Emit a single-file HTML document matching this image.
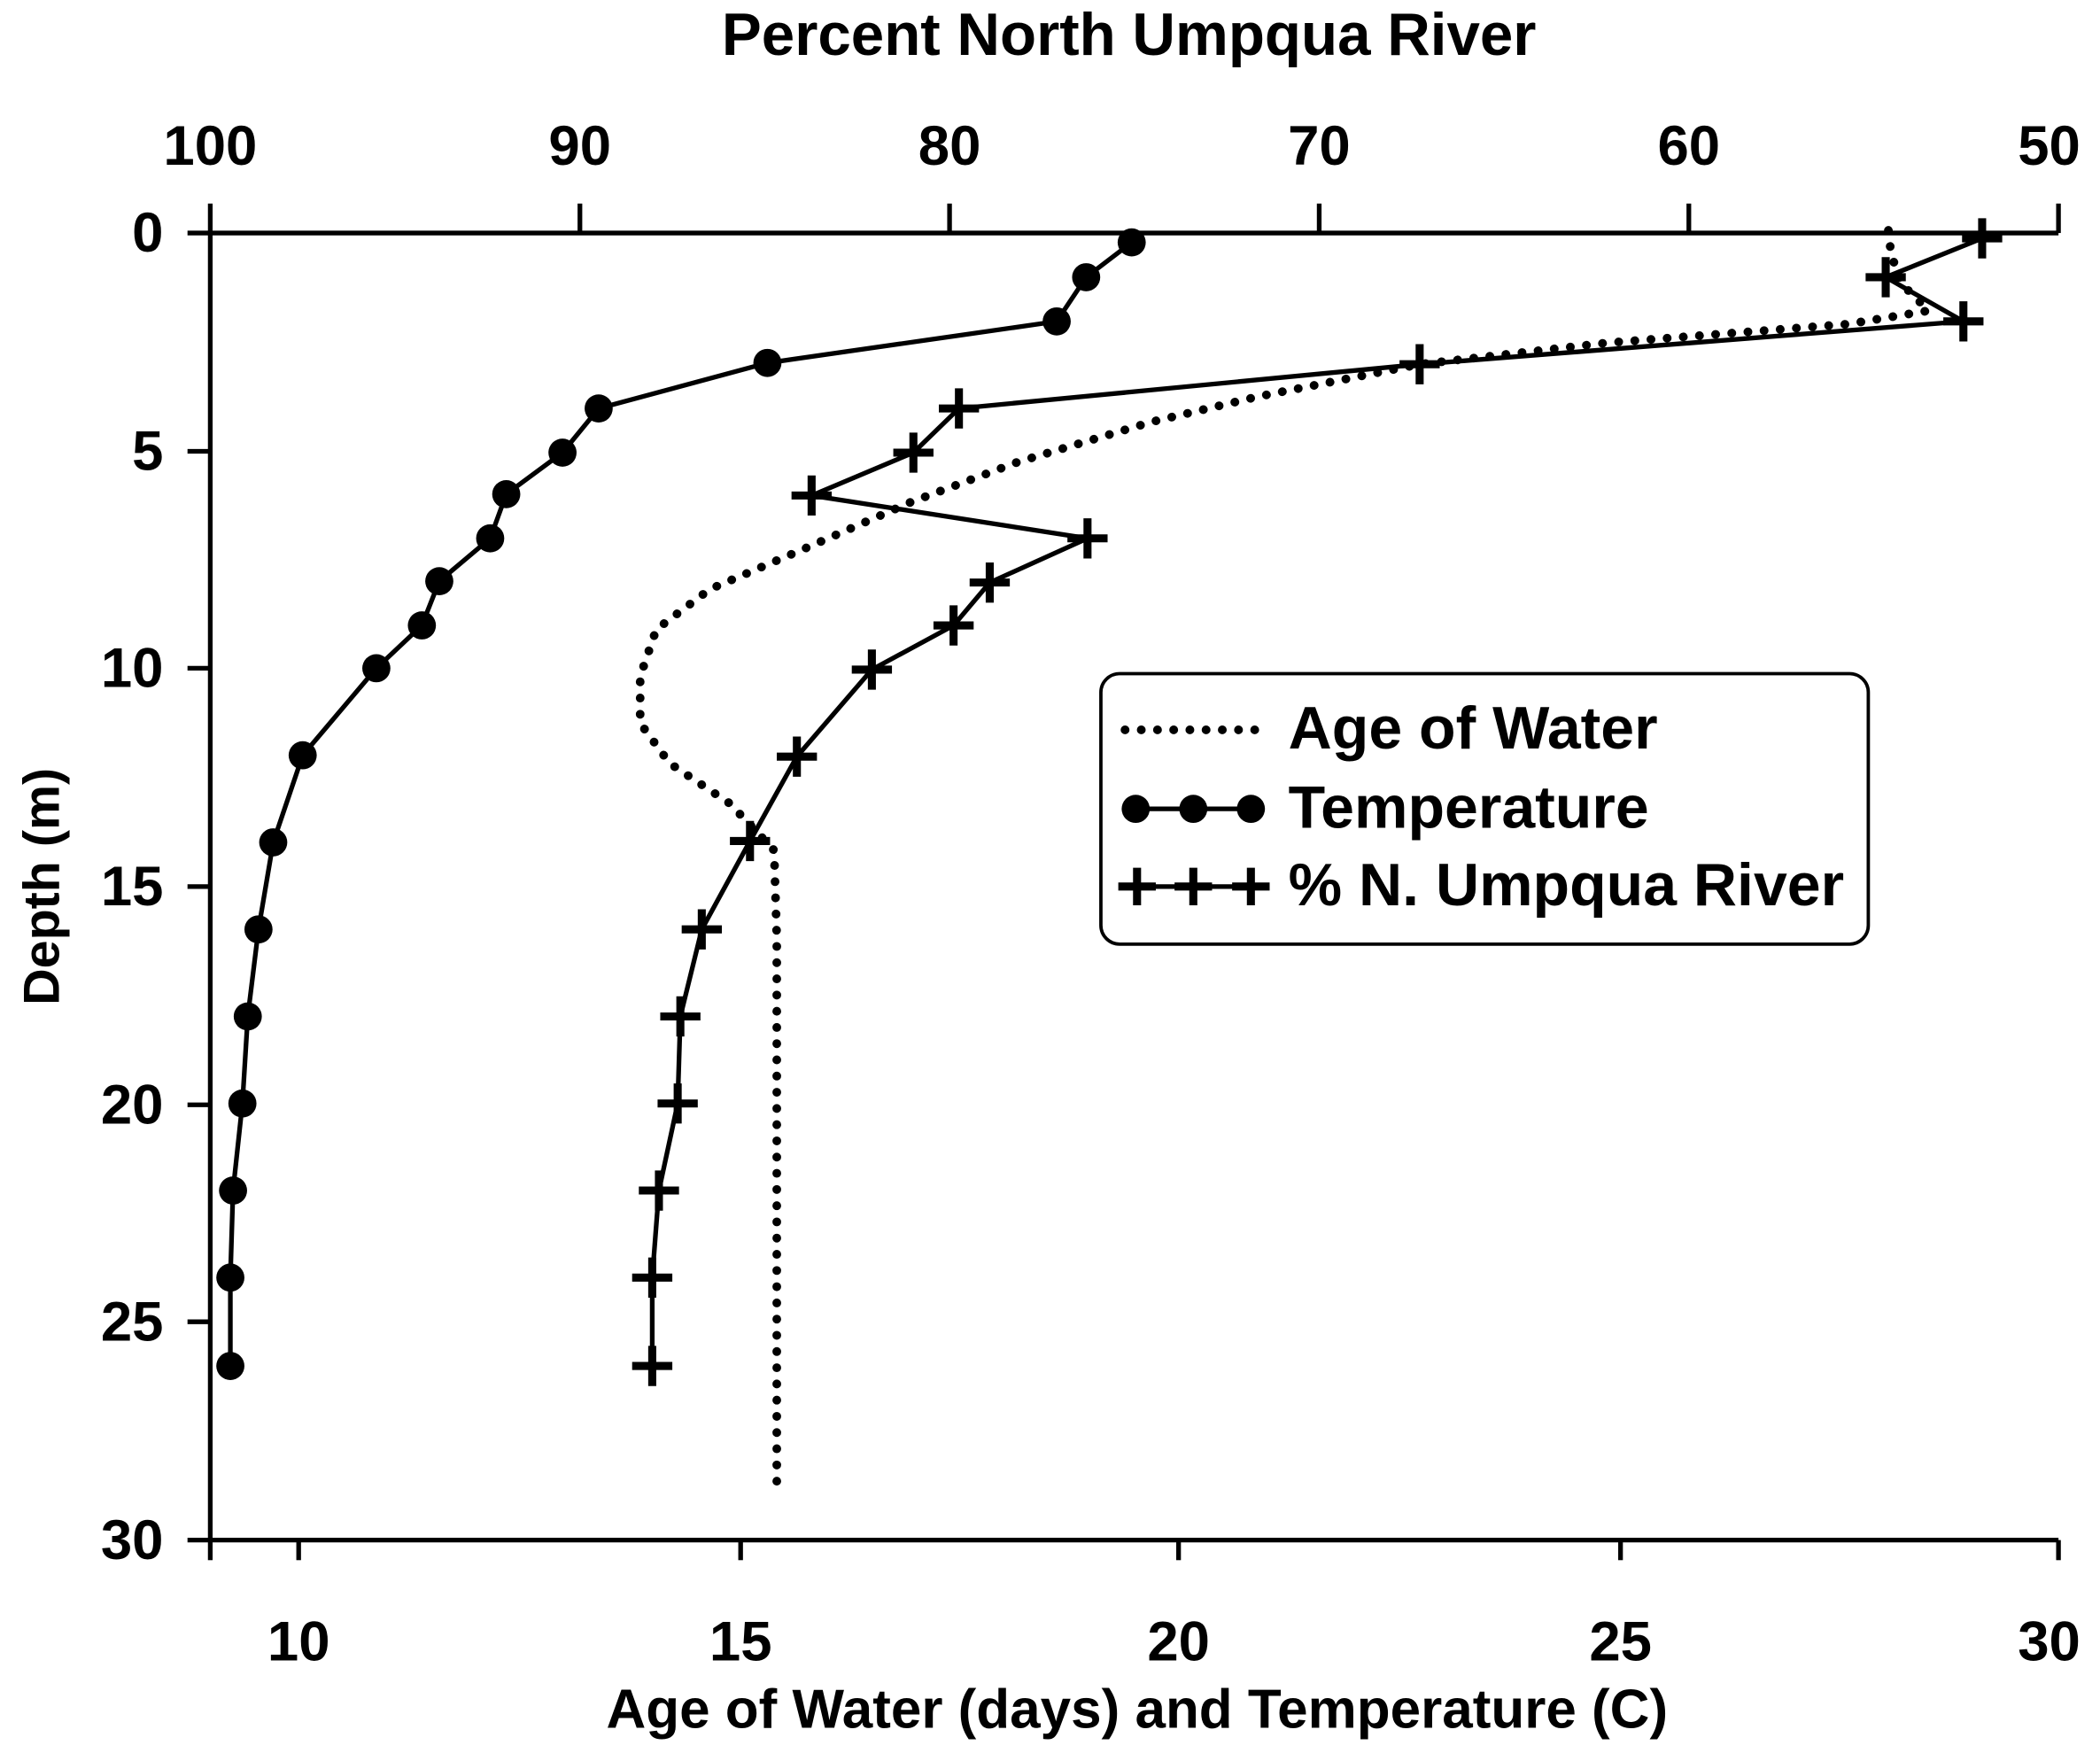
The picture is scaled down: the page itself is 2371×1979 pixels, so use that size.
<!DOCTYPE html>
<html><head><style>html,body{margin:0;padding:0;background:#fff}svg{display:block}</style></head>
<body>
<svg width="2371" height="1979" viewBox="0 0 1568 1309" preserveAspectRatio="none" xmlns="http://www.w3.org/2000/svg" font-family="Liberation Sans, sans-serif" font-weight="bold">
<rect width="1568" height="1309" fill="#fff"/>
<g stroke="#000" stroke-width="3.5" fill="none">
<line x1="157" y1="174" x2="1537" y2="174"/>
<line x1="157" y1="174" x2="157" y2="1150"/>
<line x1="157" y1="1150" x2="1537" y2="1150"/>
<line x1="1537" y1="1150" x2="1537" y2="1165"/>
<line x1="157" y1="1150" x2="157" y2="1165"/>
<line x1="223" y1="1150" x2="223" y2="1165"/>
<line x1="553" y1="1150" x2="553" y2="1165"/>
<line x1="880" y1="1150" x2="880" y2="1165"/>
<line x1="1210" y1="1150" x2="1210" y2="1165"/>
<line x1="157" y1="174" x2="157" y2="152"/>
<line x1="433" y1="174" x2="433" y2="152"/>
<line x1="709" y1="174" x2="709" y2="152"/>
<line x1="985" y1="174" x2="985" y2="152"/>
<line x1="1261" y1="174" x2="1261" y2="152"/>
<line x1="1537" y1="174" x2="1537" y2="152"/>
<line x1="140" y1="174" x2="157" y2="174"/>
<line x1="140" y1="337" x2="157" y2="337"/>
<line x1="140" y1="499" x2="157" y2="499"/>
<line x1="140" y1="662" x2="157" y2="662"/>
<line x1="140" y1="825" x2="157" y2="825"/>
<line x1="140" y1="987" x2="157" y2="987"/>
<line x1="140" y1="1150" x2="157" y2="1150"/>
</g>
<g font-size="42" text-anchor="middle">
<text x="843" y="41" font-size="44.5">Percent North Umpqua River</text>
<text x="157" y="123">100</text><text x="433" y="123">90</text><text x="709" y="123">80</text><text x="985" y="123">70</text><text x="1261" y="123">60</text><text x="1530" y="123">50</text>
<text x="223" y="1240">10</text><text x="553" y="1240">15</text><text x="880" y="1240">20</text><text x="1210" y="1240">25</text><text x="1530" y="1240">30</text>
<text x="849" y="1290" font-size="41">Age of Water (days) and Temperature (C)</text>
</g>
<g font-size="42" text-anchor="end">
<text x="122" y="188">0</text><text x="122" y="351">5</text><text x="122" y="513">10</text><text x="122" y="676">15</text><text x="122" y="839">20</text><text x="122" y="1001">25</text><text x="122" y="1164">30</text>
</g>
<text font-size="38" text-anchor="middle" transform="translate(44,662) rotate(-90)">Depth (m)</text>
<polyline fill="none" stroke="#000" stroke-width="6.5" stroke-dasharray="0.1 12" stroke-linecap="round" points="1410,172 1412,190 1420,212 1440,232 1380,242 1200,256 1060,272 940,296 860,315 760,345 680,375 600,410 530,440 490,470 478,505 478,540 500,570 545,600 578,635 580,700 580,1115"/>
<polyline fill="none" stroke="#000" stroke-width="3.5" points="845,181 811,207 789,240 573,271 447,305 420,338 378,369 366,402 328,434 315,467 281,499 226,564 204,629 193,694 185,759 181,824 174,889 172,954 172,1020"/>
<g fill="#000">
<circle cx="845" cy="181" r="10.5"/><circle cx="811" cy="207" r="10.5"/><circle cx="789" cy="240" r="10.5"/><circle cx="573" cy="271" r="10.5"/><circle cx="447" cy="305" r="10.5"/><circle cx="420" cy="338" r="10.5"/><circle cx="378" cy="369" r="10.5"/><circle cx="366" cy="402" r="10.5"/><circle cx="328" cy="434" r="10.5"/><circle cx="315" cy="467" r="10.5"/><circle cx="281" cy="499" r="10.5"/><circle cx="226" cy="564" r="10.5"/><circle cx="204" cy="629" r="10.5"/><circle cx="193" cy="694" r="10.5"/><circle cx="185" cy="759" r="10.5"/><circle cx="181" cy="824" r="10.5"/><circle cx="174" cy="889" r="10.5"/><circle cx="172" cy="954" r="10.5"/><circle cx="172" cy="1020" r="10.5"/>
</g>
<polyline fill="none" stroke="#000" stroke-width="3.5" points="1480,178 1408,207 1466,240 1060,272 716,305 682,338 606,370 812,402 739,435 712,467 651,500 595,565 560,628 524,694 508,759 506,824 492,889 487,954 487,1020"/>
<g stroke="#000" stroke-width="6">
<path d="M1465,178h30M1480,163v30 M1393,207h30M1408,192v30 M1451,240h30M1466,225v30 M1045,272h30M1060,257v30 M701,305h30M716,290v30 M667,338h30M682,323v30 M591,370h30M606,355v30 M797,402h30M812,387v30 M724,435h30M739,420v30 M697,467h30M712,452v30 M636,500h30M651,485v30 M580,565h30M595,550v30 M545,628h30M560,613v30 M509,694h30M524,679v30 M493,759h30M508,744v30 M491,824h30M506,809v30 M477,889h30M492,874v30 M472,954h30M487,939v30 M472,1020h30M487,1005v30"/>
</g>
<rect x="822" y="503" width="573" height="202" rx="14" fill="#fff" stroke="#000" stroke-width="2.5"/>
<line x1="840" y1="545" x2="940" y2="545" stroke="#000" stroke-width="6.5" stroke-dasharray="0.1 12" stroke-linecap="round"/>
<line x1="848" y1="604" x2="934" y2="604" stroke="#000" stroke-width="3.5"/>
<circle cx="848" cy="604" r="10.5"/><circle cx="891" cy="604" r="10.5"/><circle cx="934" cy="604" r="10.5"/>
<line x1="848" y1="662" x2="934" y2="662" stroke="#000" stroke-width="3.5"/>
<path d="M835,662h28M849,648v28 M877,662h28M891,648v28 M920,662h28M934,648v28" stroke="#000" stroke-width="6"/>
<g font-size="45">
<text x="962" y="559">Age of Water</text>
<text x="962" y="618">Temperature</text>
<text x="962" y="676">% N. Umpqua River</text>
</g>
</svg>
</body></html>
